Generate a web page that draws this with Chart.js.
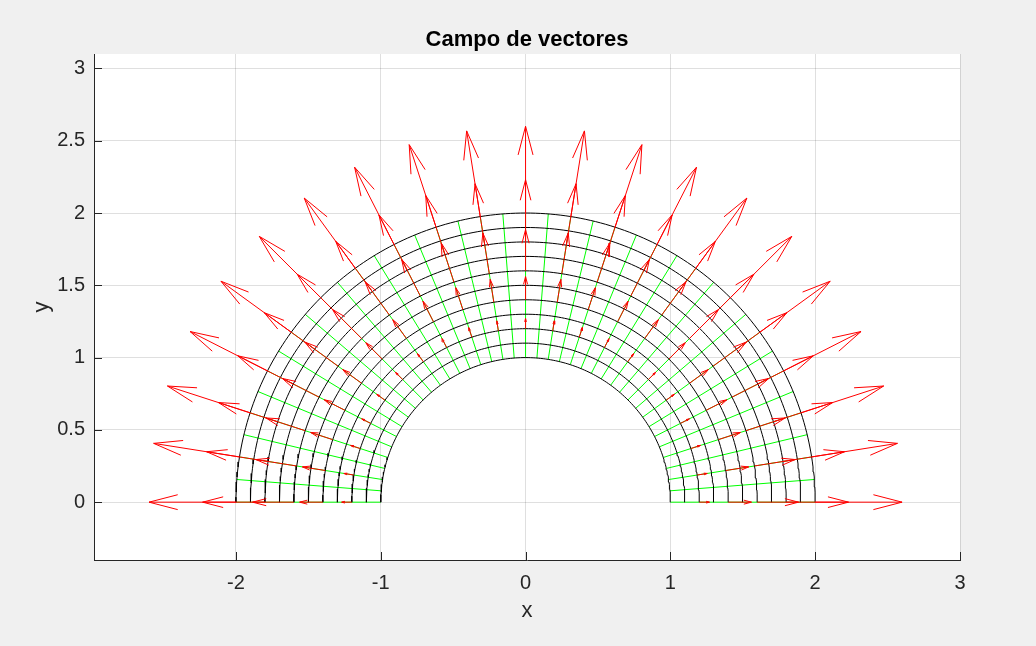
<!DOCTYPE html>
<html>
<head>
<meta charset="utf-8">
<script src="https://cdn.jsdelivr.net/npm/chart.js@4.4.1/dist/chart.umd.min.js"></script>
<style>
  html, body { margin: 0; padding: 0; background: #f0f0f0; }
</style>
</head>
<body>
<canvas id="chart" width="1036" height="646"></canvas>
<script>
// semicircunferencias negras (radios de la malla)
const radiosMalla = [1, 1.1, 1.2, 1.3, 1.4, 1.5, 1.6, 1.7, 1.8, 1.9, 2];
// lineas radiales verdes (grados)
const angulosMalla = [0, 4.5, 9, 13.5, 18, 22.5, 27, 31.5, 36, 40.5, 45, 49.5, 54, 58.5,
  63, 67.5, 72, 76.5, 81, 85.5, 90, 94.5, 99, 103.5, 108, 112.5, 117, 121.5, 126, 130.5,
  135, 139.5, 144, 148.5, 153, 157.5, 162, 166.5, 171, 175.5, 180];
// flechas rojas: direcciones, radios de origen y largo de cada flecha
const angulosFlechas = [0, 9, 18, 27, 36, 45, 54, 63, 72, 81, 90, 99, 108, 117, 126, 135,
  144, 153, 162, 171, 180];
const radiosFlechas = [1.2, 1.4, 1.6, 1.8, 2];
const largoFlechas = [0.07, 0.16, 0.285, 0.43, 0.6];

const ticksX = [-2, -1, 0, 1, 2, 3];
const ticksY = [0, 0.5, 1, 1.5, 2, 2.5, 3];

const FUENTE = '"Liberation Sans", Helvetica, Arial, sans-serif';
const TEXTO = '#262626';
const CORTE = { x: null, y: null };
const rad = g => g * Math.PI / 180;

// semicircunferencias
const circulos = [];
radiosMalla.forEach(r => {
  for (let g = 0; g <= 180; g += 1) {
    circulos.push({ x: r * Math.cos(rad(g)), y: r * Math.sin(rad(g)) });
  }
  circulos.push(CORTE);
});

// radiales
const rIn = radiosMalla[0], rOut = radiosMalla[radiosMalla.length - 1];
const radiales = [];
angulosMalla.forEach(g => {
  const c = Math.cos(rad(g)), s = Math.sin(rad(g));
  radiales.push({ x: rIn * c, y: rIn * s }, { x: rOut * c, y: rOut * s }, CORTE);
});

// flechas (cabeza como en quiver)
const ALFA = 0.33, BETA = 0.26;
const flechas = [];
angulosFlechas.forEach(g => {
  const c = Math.cos(rad(g)), s = Math.sin(rad(g));
  radiosFlechas.forEach((r, i) => {
    const u = largoFlechas[i] * c, v = largoFlechas[i] * s;
    const x0 = r * c, y0 = r * s, x1 = x0 + u, y1 = y0 + v;
    flechas.push(
      { x: x0, y: y0 }, { x: x1, y: y1 }, CORTE,
      { x: x1 - ALFA * (u + BETA * v), y: y1 - ALFA * (v - BETA * u) },
      { x: x1, y: y1 },
      { x: x1 - ALFA * (u - BETA * v), y: y1 - ALFA * (v + BETA * u) },
      CORTE
    );
  });
});

const fondo = {
  id: 'fondo',
  beforeDraw(chart) {
    const { ctx, chartArea: a } = chart;
    ctx.save();
    ctx.fillStyle = '#f0f0f0';
    ctx.fillRect(0, 0, chart.width, chart.height);
    ctx.fillStyle = '#ffffff';
    ctx.fillRect(a.left, a.top, a.right - a.left, a.bottom - a.top);
    ctx.restore();
  }
};

// marcas de los ejes hacia dentro
const marcas = {
  id: 'marcas',
  beforeDatasetsDraw(chart) {
    const { ctx, chartArea: a, scales: { x, y } } = chart;
    ctx.save();
    ctx.strokeStyle = TEXTO;
    ctx.lineWidth = 1;
    ctx.beginPath();
    ticksX.forEach(v => {
      const p = Math.round(x.getPixelForValue(v)) + 0.5;
      ctx.moveTo(p, a.bottom);
      ctx.lineTo(p, a.bottom - 8);
    });
    ticksY.forEach(v => {
      const p = Math.round(y.getPixelForValue(v)) + 0.5;
      ctx.moveTo(a.left, p);
      ctx.lineTo(a.left + 8, p);
    });
    ctx.stroke();
    ctx.restore();
  }
};

const serie = (data, color) => ({
  data: data,
  borderColor: color,
  backgroundColor: color,
  borderWidth: 1,
  showLine: true,
  pointRadius: 0,
  spanGaps: false,
  fill: false,
  tension: 0
});

const ctx = document.getElementById('chart').getContext('2d');
new Chart(ctx, {
  type: 'scatter',
  data: {
    datasets: [
      serie(flechas, '#ff0000'),
      serie(circulos, '#000000'),
      serie(radiales, '#00ff00')
    ]
  },
  options: {
    responsive: false,
    animation: false,
    events: [],
    layout: { padding: { left: 0, right: 76, top: 0, bottom: 0 } },
    plugins: {
      legend: { display: false },
      tooltip: { enabled: false },
      title: {
        display: true,
        text: 'Campo de vectores',
        fullSize: false,
        color: '#000000',
        font: { family: FUENTE, size: 22, weight: 'bold' },
        padding: { top: 26.8, bottom: 0.8 }
      }
    },
    scales: {
      x: {
        type: 'linear',
        min: -2.98,
        max: 3,
        afterBuildTicks: s => { s.ticks = ticksX.map(v => ({ value: v })); },
        afterFit: s => { s.height = 86; s.paddingLeft = 0; s.paddingRight = 0; },
        grid: { color: 'rgba(38,38,38,0.15)', drawTicks: false },
        border: { color: TEXTO, width: 1 },
        ticks: {
          autoSkip: false, maxRotation: 0, padding: 11, color: TEXTO,
          font: { family: FUENTE, size: 20 },
          callback: v => String(v)
        },
        title: {
          display: true, text: 'x', color: TEXTO,
          font: { family: FUENTE, size: 22 },
          padding: { top: 0, bottom: 21.8 }
        }
      },
      y: {
        type: 'linear',
        min: -0.4,
        max: 3.1,
        afterBuildTicks: s => { s.ticks = ticksY.map(v => ({ value: v })); },
        afterFit: s => { s.width = 94; s.paddingTop = 0; s.paddingBottom = 0; },
        grid: { color: 'rgba(38,38,38,0.15)', drawTicks: false },
        border: { color: TEXTO, width: 1 },
        ticks: {
          autoSkip: false, padding: 9, color: TEXTO,
          font: { family: FUENTE, size: 20 },
          callback: v => String(v)
        },
        title: {
          display: true, text: 'y', color: TEXTO,
          font: { family: FUENTE, size: 22 },
          padding: { top: 29, bottom: 0 }
        }
      }
    }
  },
  plugins: [fondo, marcas]
});
</script>
</body>
</html>
